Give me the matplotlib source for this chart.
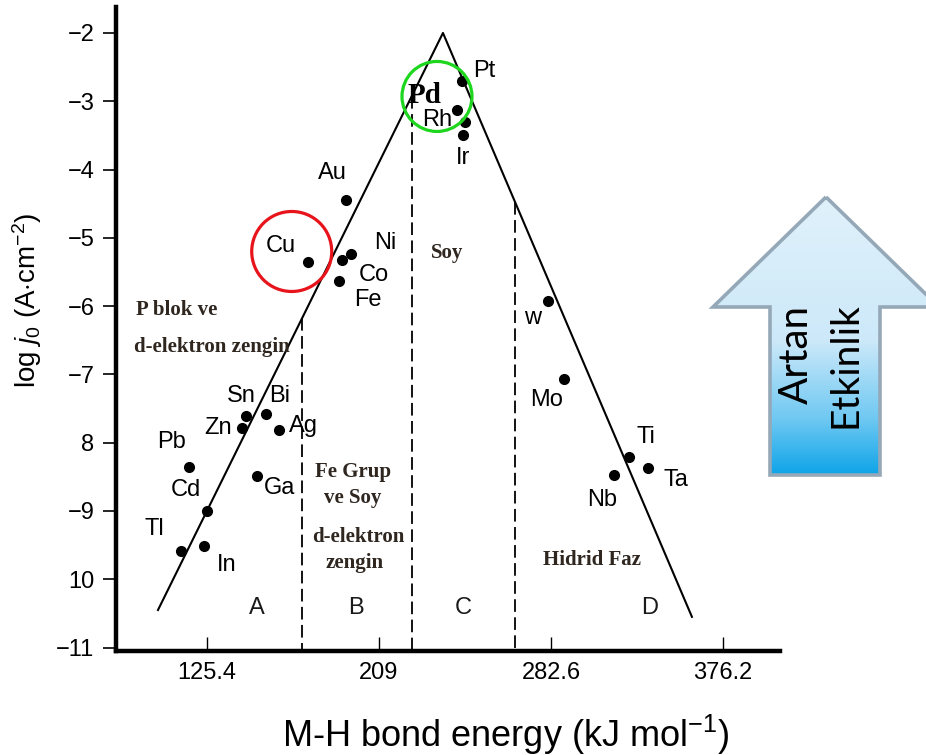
import numpy as np
import matplotlib
matplotlib.use("Agg")
import matplotlib.pyplot as plt
from matplotlib.patches import Polygon

plt.rcParams["font.family"] = ["Liberation Sans", "DejaVu Sans"]
plt.rcParams["mathtext.fontset"] = "custom"
plt.rcParams["mathtext.rm"] = "Liberation Sans"
plt.rcParams["mathtext.it"] = "Liberation Sans:italic"

# metals: M-H bond energy (kJ/mol) and log j0
elements = ["Pt", "Pd", "Rh", "Ir", "Au", "Cu", "Ni", "Co", "Fe", "W", "Mo",
            "Ti", "Ta", "Nb", "Sn", "Bi", "Zn", "Ag", "Ga", "Pb", "Cd", "Tl", "In"]
point_labels = ["Pt", "Pd", "Rh", "Ir", "Au", "Cu", "Ni", "Co", "Fe", "w", "Mo",
                "Ti", "Ta", "Nb", "Sn", "Bi", "Zn", "Ag", "Ga", "Pb", "Cd", "Tl", "In"]
bond_energy = [249.2, 246.8, 250.8, 250.0, 192.8, 174.6, 195.4, 190.9, 189.6, 291.0, 298.9,
               330.7, 339.9, 323.2, 144.4, 153.9, 142.6, 160.4, 149.6, 116.8, 125.3, 112.8, 123.9]
log_j0 = [-2.71, -3.13, -3.30, -3.49, -4.45, -5.35, -5.24, -5.32, -5.63, -5.92, -7.07,
          -8.21, -8.37, -8.47, -7.61, -7.58, -7.78, -7.82, -8.49, -8.36, -9.00, -9.59, -9.51]

# volcano branches and region boundaries
volcano_x = [101.6, 240.1, 361.1]
volcano_y = [-10.45, -2.0, -10.55]
boundary_x = [171.6, 225.0, 275.1]

x_ticks = [125.4, 209.0, 292.6, 376.2]
x_tick_labels = ["125.4", "209", "282.6", "376.2"]
y_ticks = [-2, -3, -4, -5, -6, -7, -8, -9, -10, -11]
y_tick_labels = ["\u22122", "\u22123", "\u22124", "\u22125", "\u22126", "\u22127", "8",
                 "\u22129", "10", "\u221211"]

region_letters = ["A", "B", "C", "D"]
region_letter_x = [149.6, 197.9, 249.8, 340.7]
region_letter_y = -10.42

# label offsets in pixels (x right, y up)
label_offsets = {
    "Pt": (23, 10), "Pd": (-32, 15), "Rh": (-28, 2), "Ir": (0, -23),
    "Au": (-13, 27), "Cu": (-27, 16), "Ni": (34, 11), "Co": (32, -15),
    "Fe": (29, -19), "W": (-15, -17), "Mo": (-17, -21), "Ti": (17, 20),
    "Ta": (28, -12), "Nb": (-12, -25), "Sn": (-5, 20), "Bi": (14, 18),
    "Zn": (-24, 0), "Ag": (24, 4), "Ga": (23, -12), "Pb": (-18, 25),
    "Cd": (-21, 21), "Tl": (-27, 22), "In": (23, -19),
}

fig = plt.figure(figsize=(9.26, 7.55), dpi=100)
ax = fig.add_axes([116 / 926, 104 / 755, 664 / 926, 644 / 755])

ax.set_xlim(81.2, 403.9)
ax.set_ylim(-11.05, -1.62)

ax.plot(volcano_x, volcano_y, color="black", lw=1.5, zorder=2)

for bx in boundary_x:
    if bx < volcano_x[1]:
        top = np.interp(bx, volcano_x[:2], volcano_y[:2])
    else:
        top = np.interp(bx, volcano_x[1:], volcano_y[1:])
    ax.plot([bx, bx], [top, -11.05], color="black", lw=1.3, dashes=(7, 3), zorder=2)

ax.plot(bond_energy, log_j0, "o", color="black", ms=7, zorder=3)

for name, lab, xe, yl in zip(elements, point_labels, bond_energy, log_j0):
    dx, dy = label_offsets[name]
    if name == "Pd":
        ax.annotate(lab, (xe, yl), xytext=(dx, dy), textcoords="offset pixels",
                    ha="center", va="center", fontsize=21, fontweight="bold",
                    family="Liberation Serif", zorder=4)
    else:
        ax.annotate(lab, (xe, yl), xytext=(dx, dy), textcoords="offset pixels",
                    ha="center", va="center", fontsize=17, zorder=4)

# highlight circles
ax.scatter([166.6], [-5.20], s=3318, facecolors="none", edgecolors="#e8141c",
           linewidths=2.3, zorder=5)
ax.scatter([237.2], [-2.93], s=2540, facecolors="none", edgecolors="#1fd61f",
           linewidths=2.3, zorder=5)

for letter, lx in zip(region_letters, region_letter_x):
    ax.text(lx, region_letter_y, letter, ha="center", va="center", fontsize=17,
            color="#1a1a1a")

serif = dict(family="Liberation Serif", fontweight="bold", fontsize=15,
             color="#2e261f", ha="center", va="center")
ax.text(110.8, -6.06, "P blok ve", **serif)
ax.text(127.8, -6.60, "d-elektron zengin", **serif)
ax.text(242.1, -5.22, "Soy", **serif)
ax.text(196.4, -8.43, "Fe Grup", **serif)
ax.text(196.4, -8.81, "ve Soy", **serif)
ax.text(199.0, -9.38, "d-elektron", **serif)
ax.text(197.2, -9.76, "zengin", **serif)
ax.text(312.5, -9.72, "Hidrid Faz", **serif)

ax.set_xticks(x_ticks)
ax.set_xticklabels(x_tick_labels)
ax.set_yticks(y_ticks)
ax.set_yticklabels(y_tick_labels)
ax.tick_params(axis="x", direction="in", length=10, width=1.0, labelsize=17, pad=8)
ax.tick_params(axis="y", direction="out", length=9.5, width=1.2, labelsize=17, pad=6)

for side in ["top", "right"]:
    ax.spines[side].set_visible(False)
for side in ["left", "bottom"]:
    ax.spines[side].set_linewidth(3.2)

ax.set_xlabel("M-H bond energy (kJ mol$^{-1}$)", fontsize=26, va="center")
ax.xaxis.set_label_coords(0.587, -0.130)
ax.set_ylabel(r"log $j_0$ (A$\cdot$cm$^{-2}$)", fontsize=20, va="center")
ax.yaxis.set_label_coords(-0.134, 0.545)

# "Artan Etkinlik" arrow drawn in figure pixel coordinates
ov = fig.add_axes([0, 0, 1, 1], zorder=10)
ov.set_xlim(0, 926)
ov.set_ylim(755, 0)
ov.axis("off")

arrow_verts = [(826, 197), (939, 307), (880, 307), (880, 475),
               (770, 475), (770, 307), (713, 307)]
grad_y = np.linspace(197, 475, 200)
stops_y = [197, 340, 420, 475]
stops_c = np.array([[224, 241, 251], [205, 233, 249], [110, 200, 242], [14, 164, 232]]) / 255
grad = np.stack([np.interp(grad_y, stops_y, stops_c[:, k]) for k in range(3)], axis=-1)
grad = grad[:, None, :]
arrow_patch = Polygon(arrow_verts, closed=True, facecolor="none",
                      edgecolor="#95a8b8", lw=2.6, zorder=3)
im = ov.imshow(grad, extent=[713, 939, 475, 197], aspect="auto", zorder=2)
ov.add_patch(arrow_patch)
im.set_clip_path(arrow_patch)
ov.set_xlim(0, 926)
ov.set_ylim(755, 0)

ov.text(796, 355, "Artan", rotation=90, ha="center", va="center",
        fontsize=29, family="Lato", zorder=4)
ov.text(846, 365, "Etkinlik", rotation=90, ha="center", va="center",
        fontsize=28, family="Lato", zorder=4)

fig.savefig("out.png", dpi=100)
